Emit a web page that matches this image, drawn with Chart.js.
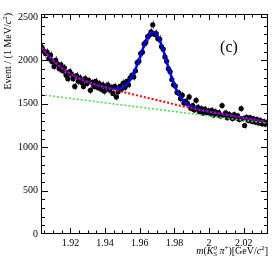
<!DOCTYPE html>
<html>
<head>
<meta charset="utf-8">
<script src="https://cdn.jsdelivr.net/npm/chart.js@4.4.1/dist/chart.umd.min.js"></script>
<style>
  html, body { margin: 0; padding: 0; background: #fff; }
  #chart { display: block; }
</style>
</head>
<body>
<canvas id="chart" width="274" height="261"></canvas>
<script>
// histogram: 1 MeV bins starting at 1.903 GeV
const binStart = 1.903;
const binWidth = 0.001;
const counts = [
  2150, 2110, 2080, 2095, 2020, 2060, 1985, 1930, 2005, 1960,
  1905, 1950, 1880, 1915, 1830, 1790, 1870, 1845, 1790, 1700,
  1825, 1760, 1800, 1745, 1700, 1790, 1735, 1770, 1655, 1745,
  1700, 1760, 1690, 1735, 1670, 1720, 1645, 1700, 1720, 1660,
  1690, 1620, 1700, 1580, 1640, 1700, 1670, 1740, 1690, 1760,
  1720, 1800, 1830, 1810, 1880, 1975, 1990, 2080, 2095, 2190,
  2210, 2275, 2290, 2330, 2410, 2300, 2310, 2250, 2245, 2160,
  2130, 2040, 1990, 1905, 1870, 1780, 1720, 1705, 1630, 1625,
  1560, 1600, 1510, 1530, 1505, 1580, 1450, 1480, 1430, 1540,
  1460, 1410, 1445, 1395, 1440, 1400, 1420, 1390, 1425, 1370,
  1410, 1380, 1400, 1360, 1480, 1370, 1395, 1340, 1380, 1355,
  1330, 1375, 1340, 1360, 1320, 1445, 1330, 1250, 1345, 1310,
  1340, 1300, 1330, 1290, 1320, 1280, 1310, 1270, 1295, 1265,
  1290
];

// fit curves sampled every 2 MeV, first point at 1.9035 GeV
const curveStart = 1.9035;
const curveStep = 0.002;
const bkgFit = [
  2144, 2097, 2052, 2010, 1972, 1937, 1905, 1876, 1850, 1827,
  1806, 1787, 1770, 1755, 1741, 1728, 1716, 1704, 1693, 1682,
  1671, 1661, 1651, 1641, 1631, 1621, 1611, 1602, 1592, 1583,
  1573, 1564, 1555, 1545, 1536, 1527, 1517, 1507, 1497, 1487,
  1478, 1469, 1460, 1451, 1443, 1435, 1427, 1419, 1411, 1403,
  1396, 1389, 1382, 1375, 1368, 1361, 1354, 1347, 1340, 1333,
  1326, 1319, 1312, 1305, 1298, 1291
];
const totalFit = [
  2144, 2097, 2052, 2010, 1972, 1937, 1905, 1876, 1850, 1827,
  1806, 1787, 1770, 1755, 1741, 1728, 1716, 1704, 1693, 1686,
  1678, 1673, 1673, 1681, 1704, 1746, 1809, 1898, 2004, 2118,
  2222, 2298, 2328, 2305, 2231, 2119, 1987, 1857, 1741, 1647,
  1578, 1529, 1495, 1471, 1455, 1442, 1431, 1421, 1411, 1403,
  1396, 1389, 1382, 1375, 1368, 1361, 1354, 1347, 1340, 1333,
  1326, 1319, 1312, 1305, 1298, 1291
];
// straight (green) background component
const lineMass = [1.903, 2.034];
const lineFit = [1606, 1275];

const xTicks = [1.92, 1.94, 1.96, 1.98, 2.0, 2.02];
const xTickLabels = ["1.92", "1.94", "1.96", "1.98", "2", "2.02"];
const yTicks = [0, 500, 1000, 1500, 2000, 2500];
const yTickLabels = ["0", "500", "1000", "1500", "2000", "2500"];

const serif = "'Liberation Serif', 'DejaVu Serif', serif";

const histPoints = counts.map((n, i) => ({ x: binStart + (i + 0.5) * binWidth, y: n }));
const bkgPoints = bkgFit.map((v, i) => ({ x: curveStart + i * curveStep, y: v }));
const totalPoints = totalFit.map((v, i) => ({ x: curveStart + i * curveStep, y: v }));
const linePoints = lineFit.map((v, i) => ({ x: lineMass[i], y: v }));

// draws text made of pieces: [text, italic, small, dy]
function drawPieces(ctx, pieces, xRight, yBase, size) {
  const fontOf = (p) => (p[1] ? "italic " : "") + (p[2] ? Math.round(size * 0.7) : size) + "px " + serif;
  let total = 0;
  pieces.forEach(p => { ctx.font = fontOf(p); if (!p[4]) total += ctx.measureText(p[0]).width; });
  let x = xRight - total;
  pieces.forEach(p => {
    ctx.font = fontOf(p);
    ctx.fillText(p[0], x, yBase + p[3]);
    if (!p[4]) x += ctx.measureText(p[0]).width;
  });
}

const decorations = {
  id: "decorations",
  beforeDatasetsDraw(chart) {
    const { ctx, scales: { x, y } } = chart;
    ctx.save();
    ctx.strokeStyle = "#666";
    ctx.lineWidth = 1;
    histPoints.forEach(p => {
      const px = Math.round(x.getPixelForValue(p.x)) + 0.5;
      const e = Math.sqrt(p.y);
      ctx.beginPath();
      ctx.moveTo(px, y.getPixelForValue(p.y + e));
      ctx.lineTo(px, y.getPixelForValue(p.y - e));
      ctx.stroke();
    });
    ctx.restore();
  },
  afterDraw(chart) {
    const { ctx, chartArea: a, scales: { x, y } } = chart;
    ctx.save();
    ctx.strokeStyle = "#000";
    ctx.lineWidth = 1;
    ctx.strokeRect(a.left + 0.5, a.top + 0.5, a.right - a.left - 1, a.bottom - a.top - 1);

    ctx.beginPath();
    for (let v = 1.905; v < 2.034; v += 0.005) {
      const px = Math.round(x.getPixelForValue(v)) + 0.5;
      const major = xTicks.some(t => Math.abs(t - v) < 1e-6);
      const len = major ? 6 : 3.5;
      ctx.moveTo(px, a.bottom); ctx.lineTo(px, a.bottom - len);
      ctx.moveTo(px, a.top); ctx.lineTo(px, a.top + len);
    }
    for (let v = 100; v <= 2500; v += 100) {
      const py = Math.round(y.getPixelForValue(v)) + 0.5;
      const len = v % 500 === 0 ? 7 : 4;
      ctx.moveTo(a.left, py); ctx.lineTo(a.left + len, py);
      ctx.moveTo(a.right, py); ctx.lineTo(a.right - len, py);
    }
    ctx.stroke();

    ctx.fillStyle = "#000";
    ctx.textBaseline = "alphabetic";
    ctx.textAlign = "left";
    // x title
    drawPieces(ctx, [
      ["m", true, false, 0], ["(", false, false, 0], ["K", true, false, 0],
      ["S", true, true, 2, true], ["0", true, true, -4], [" \u03c0", true, false, 0],
      ["+", false, true, -4], [")[GeV/", false, false, 0], ["c", true, false, 0],
      ["2", false, true, -4], ["]", false, false, 0]
    ], 268, 254, 10);
    // y title
    ctx.translate(11, 13);
    ctx.rotate(-Math.PI / 2);
    drawPieces(ctx, [
      ["Event / (1 MeV/", false, false, 0], ["c", true, false, 0],
      ["2", false, true, -4], [")", false, false, 0]
    ], 0, 0, 10);
    ctx.setTransform(1, 0, 0, 1, 0, 0);
    // panel label
    ctx.font = "16px " + serif;
    ctx.textAlign = "center";
    ctx.textBaseline = "middle";
    ctx.fillText("(c)", 229, 48);
    ctx.restore();
  }
};

new Chart(document.getElementById("chart"), {
  type: "scatter",
  data: {
    datasets: [
      {
        label: "data",
        data: histPoints,
        showLine: false,
        pointRadius: 2.6,
        pointBackgroundColor: "#000",
        pointBorderWidth: 0,
        order: 4,
      },
      {
        label: "total",
        data: totalPoints,
        showLine: true,
        pointRadius: 0,
        borderColor: "#0000ff",
        borderWidth: 2.5,
        tension: 0.4,
        order: 3,
      },
      {
        label: "line",
        data: linePoints,
        showLine: true,
        pointRadius: 0,
        borderColor: "#44dd44",
        borderWidth: 1.5,
        borderDash: [2, 2],
        order: 2,
      },
      {
        label: "background",
        data: bkgPoints,
        showLine: true,
        pointRadius: 0,
        borderColor: "#ff0000",
        borderWidth: 2,
        borderDash: [2, 2],
        tension: 0.4,
        order: 1,
      },
    ],
  },
  options: {
    responsive: false,
    animation: false,
    devicePixelRatio: 1,
    layout: { padding: { top: 14, right: 6, left: 0, bottom: 0 } },
    plugins: { legend: { display: false }, tooltip: { enabled: false } },
    scales: {
      x: {
        type: "linear",
        min: 1.903,
        max: 2.034,
        grid: { display: false, drawTicks: false },
        border: { display: false },
        afterFit: (s) => { s.height = 27; },
        afterBuildTicks: (s) => { s.ticks = xTicks.map(v => ({ value: v })); },
        ticks: {
          padding: 3,
          maxRotation: 0,
          autoSkip: false,
          color: "#000",
          font: { family: serif, size: 10 },
          callback: (v, i) => xTickLabels[i],
        },
      },
      y: {
        min: 0,
        max: 2535,
        grid: { display: false, drawTicks: false },
        border: { display: false },
        afterFit: (s) => { s.width = 41; },
        afterBuildTicks: (s) => { s.ticks = yTicks.map(v => ({ value: v })); },
        ticks: {
          padding: 3,
          color: "#000",
          font: { family: serif, size: 10 },
          callback: (v, i) => yTickLabels[i],
        },
      },
    },
  },
  plugins: [decorations],
});
</script>
</body>
</html>
